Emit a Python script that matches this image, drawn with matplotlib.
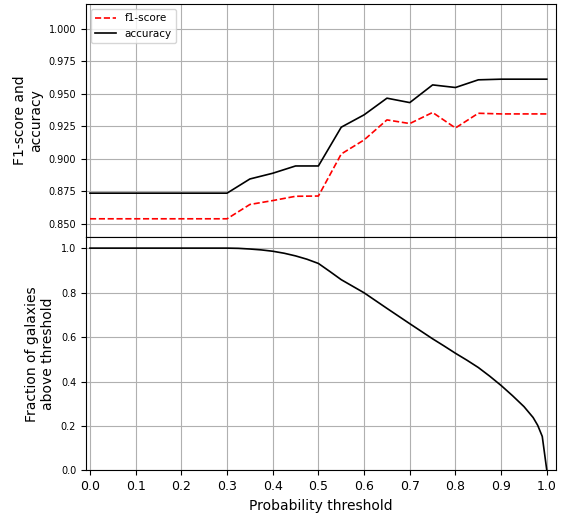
import matplotlib
matplotlib.use("Agg")
import matplotlib.pyplot as plt

thresholds = [0.0, 0.05, 0.1, 0.15, 0.2, 0.25, 0.3, 0.35, 0.4, 0.45, 0.5,
              0.55, 0.6, 0.65, 0.7, 0.75, 0.8, 0.85, 0.9, 0.95, 1.0]
f1_score = [0.854, 0.854, 0.854, 0.854, 0.854, 0.854, 0.854, 0.865, 0.868, 0.8713, 0.8715,
            0.9038, 0.9146, 0.930, 0.9272, 0.9357, 0.9238, 0.9351, 0.9346, 0.9346, 0.9346]
accuracy = [0.8737, 0.8737, 0.8737, 0.8737, 0.8737, 0.8737, 0.8737, 0.8846, 0.889, 0.8946, 0.8946,
            0.9244, 0.9339, 0.9467, 0.9433, 0.9569, 0.9549, 0.9608, 0.9613, 0.9613, 0.9613]

frac_x = [0.0, 0.05, 0.1, 0.15, 0.2, 0.25, 0.3, 0.325, 0.35, 0.375, 0.4, 0.425, 0.45, 0.475, 0.5,
          0.525, 0.55, 0.6, 0.65, 0.7, 0.75, 0.775, 0.8, 0.825, 0.85, 0.875, 0.9, 0.925, 0.95,
          0.97, 0.98, 0.99, 1.0]
frac_y = [1.0, 1.0, 1.0, 1.0, 1.0, 1.0, 1.0, 0.999, 0.996, 0.992, 0.986, 0.977, 0.965, 0.950, 0.931,
          0.895, 0.858, 0.799, 0.729, 0.660, 0.592, 0.560, 0.527, 0.496, 0.463, 0.424, 0.382, 0.336,
          0.287, 0.238, 0.203, 0.153, 0.0]

xticks = [0.0, 0.1, 0.2, 0.3, 0.4, 0.5, 0.6, 0.7, 0.8, 0.9, 1.0]
top_yticks = [0.850, 0.875, 0.900, 0.925, 0.950, 0.975, 1.000]
bottom_yticks = [0.0, 0.2, 0.4, 0.6, 0.8, 1.0]

fig = plt.figure(figsize=(5.65, 5.13), dpi=100)
ax1 = fig.add_axes([0.152, 0.538, 0.832, 0.454])
ax2 = fig.add_axes([0.152, 0.083, 0.832, 0.455], sharex=ax1)

ax1.plot(thresholds, f1_score, color="red", linestyle="--", linewidth=1.2, label="f1-score")
ax1.plot(thresholds, accuracy, color="black", linestyle="-", linewidth=1.2, label="accuracy")
ax1.set_ylim(0.840, 1.019)
ax1.set_yticks(top_yticks)
ax1.set_yticklabels([f"{v:.3f}" for v in top_yticks])
ax1.tick_params(axis="y", labelsize=7)
ax1.tick_params(axis="x", labelbottom=False, length=0)
ax1.grid(True, color="#b0b0b0", linewidth=0.8)
ax1.set_ylabel("F1-score and\naccuracy", fontsize=10)
ax1.legend(loc="upper left", fontsize=7.5)

ax2.plot(frac_x, frac_y, color="black", linewidth=1.2)
ax2.set_ylim(0.0, 1.05)
ax2.set_xlim(-0.009, 1.02)
ax2.set_xticks(xticks)
ax2.set_yticks(bottom_yticks)
ax2.tick_params(axis="y", labelsize=7)
ax2.tick_params(axis="x", labelsize=9)
ax2.grid(True, color="#b0b0b0", linewidth=0.8)
ax2.set_ylabel("Fraction of galaxies\nabove threshold", fontsize=10)
ax2.set_xlabel("Probability threshold", fontsize=10)

fig.savefig("out.png", dpi=100)
